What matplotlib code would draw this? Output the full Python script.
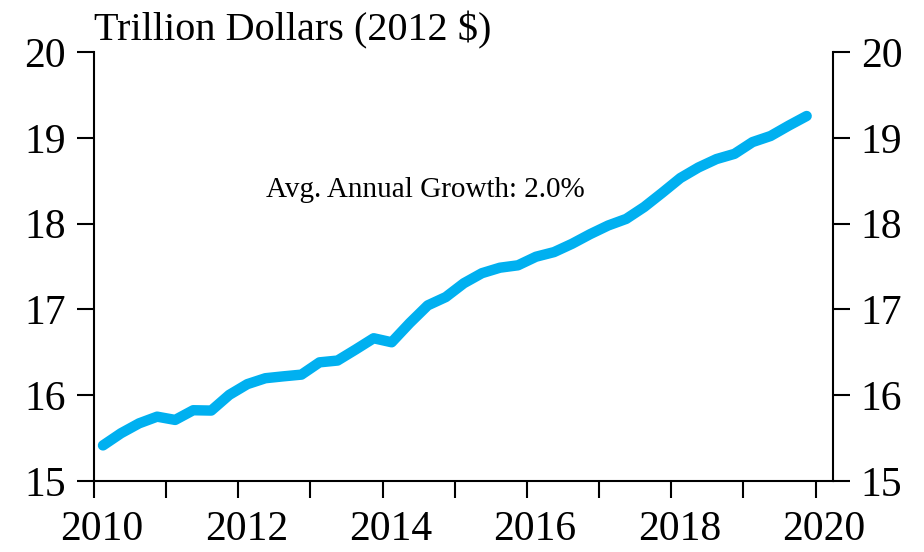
import numpy as np
import matplotlib
matplotlib.use("Agg")
import matplotlib.pyplot as plt
import matplotlib.transforms as mtransforms

# Real GDP, quarterly, billions of chained 2012 dollars (2010Q1 - 2019Q4)
quarters = [f"{y}Q{q}" for y in range(2010, 2020) for q in range(1, 5)]
gdp_bn = [
    15415, 15557, 15672, 15750,
    15712, 15825, 15821, 16004,
    16129, 16198, 16220, 16240,
    16383, 16404, 16532, 16664,
    16617, 16841, 17047, 17144,
    17305, 17422, 17486, 17514,
    17614, 17668, 17765, 17877,
    17978, 18055, 18194, 18360,
    18531, 18654, 18752, 18813,
    18950, 19021, 19141, 19254,
]
year_ticks = list(range(2010, 2021))
year_labels = [str(y) if y % 2 == 0 else "" for y in year_ticks]
y_ticks = [15, 16, 17, 18, 19, 20]

title = "Trillion Dollars (2012 $)"
note = "Avg. Annual Growth: 2.0%"

# quarter midpoints in fractional years
x = np.array([int(q[:4]) + (int(q[-1]) - 0.5) / 4 for q in quarters])
y = np.array(gdp_bn) / 1000

plt.rcParams["font.family"] = ["Liberation Serif", "DejaVu Serif"]

fig = plt.figure(figsize=(9.24, 5.52), dpi=100)
ax = fig.add_axes([0.1017, 0.1286, 0.7998, 0.7772])

ax.plot(x, y, color="#00B0F0", lw=7.5, solid_capstyle="round")

ax.set_xlim(2010, 2020.24)
ax.set_ylim(15, 20)
ax.set_xticks(year_ticks)
ax.set_xticklabels(year_labels)
ax.set_yticks(y_ticks)

ax.spines["top"].set_visible(False)
for s in ["left", "right", "bottom"]:
    ax.spines[s].set_linewidth(1.5)

ax.tick_params(axis="y", which="both", direction="out", length=12, width=1.5,
               labelsize=30, left=True, right=True, labelleft=True,
               labelright=True, pad=8)
ax.tick_params(axis="x", direction="out", length=12, width=1.5,
               labelsize=30, pad=9)

# nudge year labels a little to the right like the original
offset = mtransforms.ScaledTranslation(8 / 100, 0, fig.dpi_scale_trans)
for lab in ax.get_xticklabels():
    lab.set_transform(lab.get_transform() + offset)

ax.text(0.0, 1.005, title, transform=ax.transAxes, fontsize=29,
        ha="left", va="bottom")
ax.text(0.448, 0.678, note, transform=ax.transAxes, fontsize=21,
        ha="center", va="center")

fig.savefig("out.png", dpi=100)
